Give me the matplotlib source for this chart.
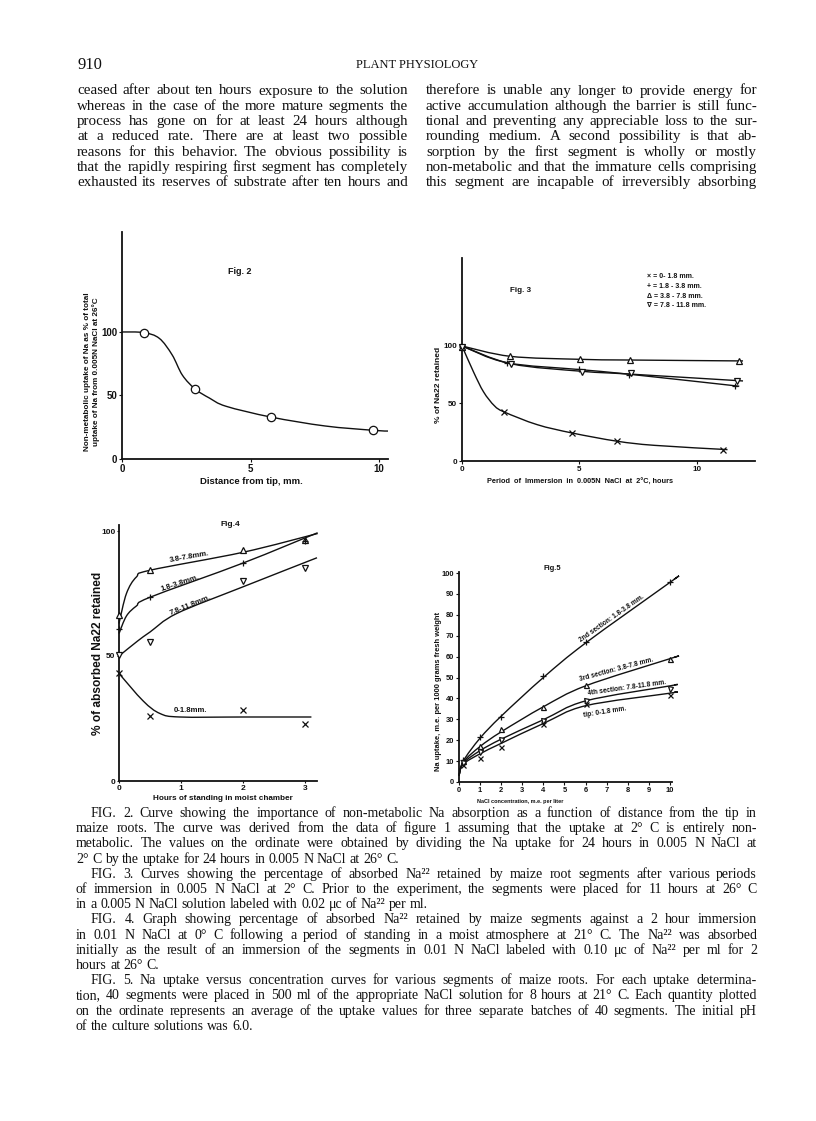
import numpy as np
import matplotlib
matplotlib.use("Agg")
import matplotlib.pyplot as plt
from matplotlib.path import Path
from matplotlib.patches import PathPatch

W, H = 816, 1121
SERIF = "Liberation Serif"
SANS = ["Liberation Sans", "DejaVu Sans"]
INK = "#111111"

# ---------------- data ----------------
# Fig. 2  non-metabolic uptake vs distance from tip
f2_x = [0.85, 2.85, 5.8, 9.75]
f2_y = [99.5, 55, 33, 22.5]
f2_curve_x = [0, 0.85, 1.45, 1.95, 2.35, 2.85, 3.4, 4.05, 5.8, 7.9, 9.77, 10.35]
f2_curve_y = [100, 99.5, 95, 82, 66, 55, 48, 41.5, 33, 26, 22.6, 22]

# Fig. 3  % Na22 retained vs immersion time
f3_x_cross = [0, 1.8, 4.7, 6.6, 11.1]
f3_y_cross = [99, 42.6, 24.3, 17, 9.9]
f3_x_plus = [0, 1.9, 5.0, 7.1, 11.6]
f3_y_plus = [99, 85.5, 79.7, 75, 65]
f3_x_tri = [0, 2.06, 5.04, 7.13, 11.8]
f3_y_tri = [99, 91.3, 88.4, 87.8, 87]
f3_x_nab = [0, 2.1, 5.1, 7.2, 11.7]
f3_y_nab = [99, 84.3, 77.4, 76.2, 69.6]
f3_curve_cross_x = [0, 0.5, 0.92, 1.38, 1.8, 3.2, 4.7, 6.6, 8.2, 11.3]
f3_curve_cross_y = [100, 77, 60, 48, 42.6, 31.6, 24.3, 17.2, 13.6, 9.9]
f3_curve_plus_x = [0, 1.9, 5.0, 7.1, 11.8]
f3_curve_plus_y = [100, 85.5, 79.5, 75.5, 65]
f3_curve_tri_x = [0, 2.06, 5.04, 7.13, 11.96]
f3_curve_tri_y = [100, 91, 88.4, 87.8, 87]
f3_curve_nab_x = [0, 2.1, 5.1, 7.2, 11.96]
f3_curve_nab_y = [100, 84.5, 78, 75.5, 69.6]
f3_legend = ["\u00d7 = 0- 1.8 mm.", "+ = 1.8 - 3.8 mm.",
             "\u0394 = 3.8 - 7.8 mm.", "\u2207 = 7.8 - 11.8 mm."]

# Fig. 4  % retained vs hours of standing
f4_x = [0, 0.5, 2, 3]
f4_y_tri = [66.3, 84.3, 92.5, 96.3]
f4_y_plus = [60.8, 73.5, 87.2, 96]
f4_y_nab = [50.5, 55.6, 79.9, 85.3]
f4_y_cross = [43.2, 25.9, 28.3, 22.7]
f4_curve_tri_x = [0, 0.12, 0.28, 0.5, 2, 3.2]
f4_curve_tri_y = [63, 75, 81.6, 84.3, 91.5, 99]
f4_curve_plus_x = [0, 0.12, 0.28, 0.5, 2, 3.2]
f4_curve_plus_y = [59, 66, 70, 73.5, 87.2, 99.3]
f4_curve_nab_x = [0, 0.3, 0.5, 0.93, 1.98, 3.19]
f4_curve_nab_y = [50, 56, 59.6, 67, 77.5, 89.3]
f4_curve_cross_x = [0, 0.39, 0.66, 0.98, 2, 3.1]
f4_curve_cross_y = [43, 32, 27, 25.6, 25.6, 25.6]
f4_labels = ["3.8-7.8mm.", "1.8-3.8mm.", "7.8-11.8mm.", "0-1.8mm."]

# Fig. 5  Na uptake vs NaCl concentration
f5_x = [0.2, 1, 2, 4, 6, 10]
f5_y_plus = [10.5, 21.5, 30.9, 50.6, 66.8, 95.7]
f5_y_tri = [10, 17, 25.4, 35.9, 46.3, 58.9]
f5_y_nab = [9, 14.5, 20.3, 29.3, 39, 44.5]
f5_y_cross = [8, 11.5, 16.7, 27.8, 37.3, 41.5]
f5_curve_x = [0, 0.2, 1, 2, 4, 6, 10, 10.2]
f5_curve_plus = [3, 10, 21, 31.5, 50, 66.5, 95.5, 97]
f5_curve_tri = [3, 9.5, 17, 24, 36, 46, 59, 59.6]
f5_curve_nab = [3, 9, 15, 20.5, 29.8, 38.8, 46, 46.5]
f5_curve_cross = [3, 8.5, 13.5, 18.5, 28, 36.5, 42.5, 43]
f5_labels = ["2nd section: 1.8-3.8 mm.", "3rd section: 3.8-7.8 mm.",
             "4th section: 7.8-11.8 mm.", "tip: 0-1.8 mm."]

# ---------------- page text ----------------
header_page = "910"
header_journal = "PLANT PHYSIOLOGY"
body_left = [
    "ceased after about ten hours exposure to the solution",
    "whereas in the case of the more mature segments the",
    "process has gone on for at least 24 hours although",
    "at a reduced rate.  There are at least two possible",
    "reasons for this behavior.  The obvious possibility is",
    "that the rapidly respiring first segment has completely",
    "exhausted its reserves of substrate after ten hours and",
]
body_right = [
    "therefore is unable any longer to provide energy for",
    "active accumulation although the barrier is still func-",
    "tional and preventing any appreciable loss to the sur-",
    "rounding medium.  A second possibility is that ab-",
    "sorption by the first segment is wholly or mostly",
    "non-metabolic and that the immature cells comprising",
    "this segment are incapable of irreversibly absorbing",
]
captions = [
    ["FIG. 2.  Curve showing the importance of non-metabolic Na absorption as a function of distance from the tip in",
     "maize roots.  The curve was derived from the data of figure 1 assuming that the uptake at 2\u00b0 C is entirely non-",
     "metabolic.  The values on the ordinate were obtained by dividing the Na uptake for 24 hours in 0.005 N NaCl at",
     "2\u00b0 C by the uptake for 24 hours in 0.005 N NaCl at 26\u00b0 C."],
    ["FIG. 3.  Curves showing the percentage of absorbed Na\u00b2\u00b2 retained by maize root segments after various periods",
     "of immersion in 0.005 N NaCl at 2\u00b0 C.  Prior to the experiment, the segments were placed for 11 hours at 26\u00b0 C",
     "in a 0.005 N NaCl solution labeled with 0.02 \u03bcc of Na\u00b2\u00b2 per ml."],
    ["FIG. 4.  Graph showing percentage of absorbed Na\u00b2\u00b2 retained by maize segments against a 2 hour immersion",
     "in 0.01 N NaCl at 0\u00b0 C following a period of standing in a moist atmosphere at 21\u00b0 C.  The Na\u00b2\u00b2 was absorbed",
     "initially as the result of an immersion of the segments in 0.01 N NaCl labeled with 0.10 \u03bcc of Na\u00b2\u00b2 per ml for 2",
     "hours at 26\u00b0 C."],
    ["FIG. 5.  Na uptake versus concentration curves for various segments of maize roots.  For each uptake determina-",
     "tion, 40 segments were placed in 500 ml of the appropriate NaCl solution for 8 hours at 21\u00b0 C.  Each quantity plotted",
     "on the ordinate represents an average of the uptake values for three separate batches of 40 segments.  The initial pH",
     "of the culture solutions was 6.0."],
]

fig = plt.figure(figsize=(W / 100, H / 100), dpi=100)
fig.patch.set_facecolor("white")
renderer = fig.canvas.get_renderer()


def fx(x):
    return x / W


def fy(y):
    return 1 - y / H


def word_width(w, fs):
    t = fig.text(0, 0, w, fontsize=fs, family=SERIF)
    wd = t.get_window_extent(renderer).width
    t.remove()
    return wd


def justified(line, x0, x1, base, fs, last=False):
    words = line.split()
    widths = [word_width(w, fs) for w in words]
    if last or len(words) == 1:
        gap = word_width("a a", fs) - 2 * word_width("a", fs)
    else:
        gap = (x1 - x0 - sum(widths)) / (len(words) - 1)
    x = x0
    for w, wd in zip(words, widths):
        fig.text(fx(x), fy(base), w, fontsize=fs, family=SERIF, color=INK,
                 ha="left", va="baseline")
        x += wd + gap


# header
fig.text(fx(77), fy(69), header_page, fontsize=12, family=SERIF, color=INK,
         ha="left", va="baseline")
fig.text(fx(417), fy(68), header_journal, fontsize=9, family=SERIF, color=INK,
         ha="center", va="baseline")

# body columns
for i, line in enumerate(body_left):
    justified(line, 77, 408, 94.5 + i * 15.3, 10.8)
for i, line in enumerate(body_right):
    justified(line, 426, 757, 94.5 + i * 15.3, 10.8)

# captions
base = 817
for block in captions:
    for j, line in enumerate(block):
        x0 = 91 if j == 0 else 76
        justified(line, x0, 757, base, 10, last=(j == len(block) - 1))
        base += 15.2


# ---------------- charts ----------------
def px_axes(left, top, right, bottom):
    ax = fig.add_axes([fx(left), fy(bottom), (right - left) / W, (bottom - top) / H])
    ax.set_facecolor("none")
    for s in ("top", "right"):
        ax.spines[s].set_visible(False)
    for s in ("left", "bottom"):
        ax.spines[s].set_linewidth(1.3)
        ax.spines[s].set_color(INK)
    return ax


def style_ticks(ax, fs, length=2):
    ax.tick_params(length=length, width=0.8, pad=1.5, colors=INK, labelsize=fs)
    for lab in ax.get_xticklabels() + ax.get_yticklabels():
        lab.set_family(SANS)
        lab.set_fontweight("bold")


def smooth(ax, xs, ys, lw=1.0):
    p = np.column_stack([xs, ys]).astype(float)
    verts = [p[0]]
    codes = [Path.MOVETO]
    n = len(p)
    for i in range(n - 1):
        p0 = p[i - 1] if i > 0 else p[i]
        p1, p2 = p[i], p[i + 1]
        p3 = p[i + 2] if i + 2 < n else p[i + 1]
        verts += [p1 + (p2 - p0) / 6, p2 - (p3 - p1) / 6, p2]
        codes += [Path.CURVE4] * 3
    ax.add_patch(PathPatch(Path(verts, codes), fill=False, lw=lw,
                           edgecolor=INK, clip_on=False))


def marks(ax, xs, ys, m, ms=4.5):
    open_m = m in ("o", "^", "v")
    ax.plot(xs, ys, ls="none", marker=m, ms=ms, mew=0.9, color=INK,
            mfc="white" if open_m else INK, clip_on=False, zorder=3)


def label(x, y, s, fs, rot=0, ha="center"):
    fig.text(fx(x), fy(y), s, fontsize=fs, family=SANS, fontweight="bold",
             color=INK, rotation=rot, ha=ha, va="center",
             rotation_mode="anchor")


# Fig. 2
ax2 = px_axes(122, 232, 388, 459)
ax2.set_xlim(0, 10.35)
ax2.set_ylim(0, 178.7)
ax2.set_xticks([0, 5, 10])
ax2.set_yticks([0, 50, 100])
style_ticks(ax2, 7)
smooth(ax2, f2_curve_x, f2_curve_y)
marks(ax2, f2_x, f2_y, "o", 6)
label(240, 272, "Fig. 2", 6.5)
label(92, 372, "Non-metabolic uptake of Na as % of total\nuptake of Na from 0.005N NaCl at 26\u00b0C", 5.9, rot=90)
label(251, 481, "Distance from tip, mm.", 6.8)

# Fig. 3
ax3 = px_axes(462, 258, 755, 461)
ax3.set_xlim(0, 12.47)
ax3.set_ylim(0, 176.5)
ax3.set_xticks([0, 5, 10])
ax3.set_yticks([0, 50, 100])
style_ticks(ax3, 5.8)
smooth(ax3, f3_curve_cross_x, f3_curve_cross_y)
smooth(ax3, f3_curve_plus_x, f3_curve_plus_y)
smooth(ax3, f3_curve_tri_x, f3_curve_tri_y)
smooth(ax3, f3_curve_nab_x, f3_curve_nab_y)
marks(ax3, f3_x_cross, f3_y_cross, "x", 4)
marks(ax3, f3_x_plus, f3_y_plus, "+", 4.5)
marks(ax3, f3_x_tri, f3_y_tri, "^", 4)
marks(ax3, f3_x_nab, f3_y_nab, "v", 4)
label(521, 291, "Fig. 3", 5.8)
for k, s in enumerate(f3_legend):
    label(647, 277 + k * 9.5, s, 5.0, ha="left")
label(438, 385, "% of Na22 retained", 6.0, rot=90)
label(580, 482, "Period  of  Immersion  in  0.005N  NaCl  at  2\u00b0C, hours", 5.3)

# Fig. 4
ax4 = px_axes(119, 525, 317, 781)
ax4.set_xlim(0, 3.19)
ax4.set_ylim(0, 102.4)
ax4.set_xticks([0, 1, 2, 3])
ax4.set_yticks([0, 50, 100])
style_ticks(ax4, 6.0, length=1.2)
smooth(ax4, f4_curve_tri_x, f4_curve_tri_y)
smooth(ax4, f4_curve_plus_x, f4_curve_plus_y)
smooth(ax4, f4_curve_nab_x, f4_curve_nab_y)
smooth(ax4, f4_curve_cross_x, f4_curve_cross_y)
marks(ax4, f4_x, f4_y_tri, "^", 4.5)
marks(ax4, f4_x, f4_y_plus, "+", 4.5)
marks(ax4, f4_x, f4_y_nab, "v", 4.5)
marks(ax4, f4_x, f4_y_cross, "x", 4.5)
label(230, 524, "Fig.4", 6.0)
label(189, 557, f4_labels[0], 5.6, rot=10)
label(180, 583, f4_labels[1], 5.6, rot=18)
label(190, 605, f4_labels[2], 5.6, rot=22)
label(190, 711, f4_labels[3], 5.6)
label(98, 653, "% of absorbed Na22 retained", 8.6, rot=90)
label(223, 798, "Hours of standing in moist chamber", 5.9)

# Fig. 5
ax5 = px_axes(459, 572, 672, 782)
ax5.set_xlim(0, 10.1)
ax5.set_ylim(0, 100.5)
ax5.set_xticks(range(0, 11))
ax5.set_yticks(range(0, 101, 10))
style_ticks(ax5, 5.4)
smooth(ax5, f5_curve_x, f5_curve_plus)
smooth(ax5, f5_curve_x, f5_curve_tri)
smooth(ax5, f5_curve_x, f5_curve_nab)
smooth(ax5, f5_curve_x, f5_curve_cross)
marks(ax5, f5_x, f5_y_plus, "+", 3.8)
marks(ax5, f5_x, f5_y_tri, "^", 3.6)
marks(ax5, f5_x, f5_y_nab, "v", 3.6)
marks(ax5, f5_x, f5_y_cross, "x", 3.6)
label(552, 568, "Fig.5", 5.4)
label(612, 619, f5_labels[0], 4.8, rot=35)
label(616, 670, f5_labels[1], 4.8, rot=15)
label(627, 688, f5_labels[2], 4.8, rot=8)
label(605, 712, f5_labels[3], 4.8, rot=9)
label(439, 691, "Na uptake, m.e. per 1000 grams fresh weight", 5.4, rot=90)
label(520, 801, "NaCl concentration, m.e. per liter", 4.0)

fig.savefig("out.png", dpi=100, facecolor="white")
